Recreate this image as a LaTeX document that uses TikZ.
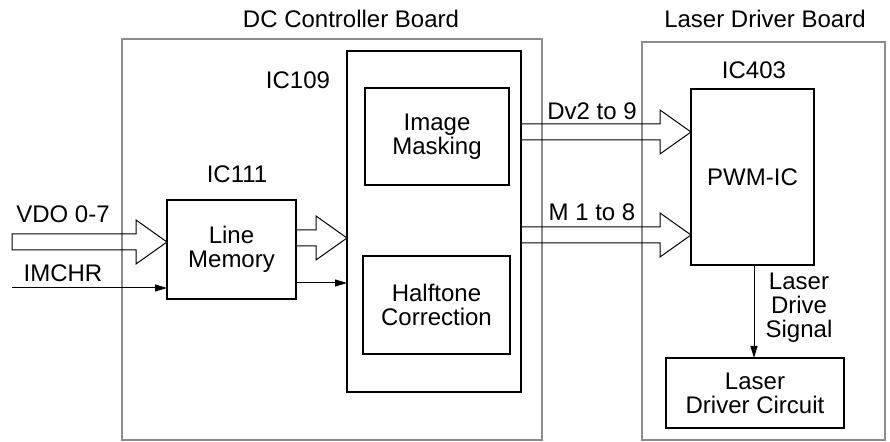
\documentclass[tikz,border=0pt]{standalone}
\usepackage{fontspec}
\setmainfont{Liberation Sans}
\usetikzlibrary{arrows.meta,calc}

% wide hollow arrow from #1 to tip #2
\newcommand{\hollowarrow}[2]{%
  \draw[arrowline] ($(#1)+(0,-8)$) -- ($(#2)+(-31,-8)$) -- ($(#2)+(-31,-22)$) -- (#2)
    -- ($(#2)+(-31,22)$) -- ($(#2)+(-31,8)$) -- ($(#1)+(0,8)$) -- cycle;}

\begin{document}
\begin{tikzpicture}[
        x=0.5pt, y=-0.5pt,                % pixel grid of the drawing
        every node/.style={
            font=\fontsize{12}{12}\selectfont,
            inner sep=0pt,
            outer sep=0pt
        },
        board/.style={draw=black!45, line width=1pt},
        chip/.style={draw, line width=1.3pt},
        block/.style={draw, line width=0.6pt},
        arrowline/.style={line width=0.5pt},
        >={Triangle[length=6pt,width=3.5pt]}
    ]
    \useasboundingbox (0,0) rectangle (890,442);

    % boards
    \node[board, minimum width=210pt, minimum height=200.5pt] (dcboard) at (332,239.5) {};
    \node[board, minimum width=121.5pt, minimum height=199pt] (ldboard) at (763.5,241) {};
    \node (dctitle) at (351,19) {DC Controller Board};
    \node (ldtitle) at (765,19) {Laser Driver Board};

    % chips
    \node[chip, minimum width=64.5pt, minimum height=49.5pt, align=center] (linemem) at (231.5,249.5) {Line\\Memory};
    \node (ic111) at (237,174) {IC111};
    \node[chip, minimum width=87pt, minimum height=170.5pt] (ic109) at (434,221.5) {};
    \node (ic109label) at (298,80) {IC109};
    \node[block, minimum width=72pt, minimum height=48.5pt, align=center] (mask) at (437,136.5) {Image\\Masking};
    \node[block, minimum width=73.5pt, minimum height=49pt, align=center] (halftone) at (436.5,305) {Halftone\\Correction};
    \node[chip, minimum width=61.5pt, minimum height=88pt] (ic403) at (752.5,177) {PWM-IC};
    \node (ic403label) at (754,70) {IC403};
    \node[block, minimum width=89pt, minimum height=35pt, align=center] (ldcircuit) at (755,393) {Laser\\Driver Circuit};

    % inputs
    \coordinate (vdoin) at (12,242);
    \coordinate (vdotip) at (vdoin -| linemem.west);
    \hollowarrow{vdoin}{vdotip}
    \node (vdo) at (63,214) {VDO 0-7};
    \coordinate (imchrin) at (12,288);
    \draw[arrowline, ->] (imchrin) -- (imchrin -| linemem.west);
    \node (imchr) at (63,273) {IMCHR};

    % line memory to IC109
    \coordinate (lmout) at ($(linemem.east)+(0,-11.5)$);
    \coordinate (lmtip) at (lmout -| ic109.west);
    \hollowarrow{lmout}{lmtip}
    \coordinate (lmsig) at ($(linemem.east)+(0,33.5)$);
    \draw[arrowline, ->] (lmsig) -- (lmsig -| ic109.west);

    % IC109 to IC403
    \coordinate (dvout) at ($(ic109.east)+(0,-89.5)$);
    \coordinate (dvtip) at (dvout -| ic403.west);
    \hollowarrow{dvout}{dvtip}
    \node (dv) at (592,111) {Dv2 to 9};
    \coordinate (mout) at ($(ic109.east)+(0,13.5)$);
    \coordinate (mtip) at (mout -| ic403.west);
    \hollowarrow{mout}{mtip}
    \node (m) at (592,212) {M 1 to 8};

    % laser drive signal
    \draw[arrowline, ->] ($(ic403.south)+(1.5,0)$) -- ($(ic403.south |- ldcircuit.north)+(1.5,0)$);
    \node[align=center] (ldsignal) at (799,308) {Laser\\Drive\\Signal};
\end{tikzpicture}
\end{document}
